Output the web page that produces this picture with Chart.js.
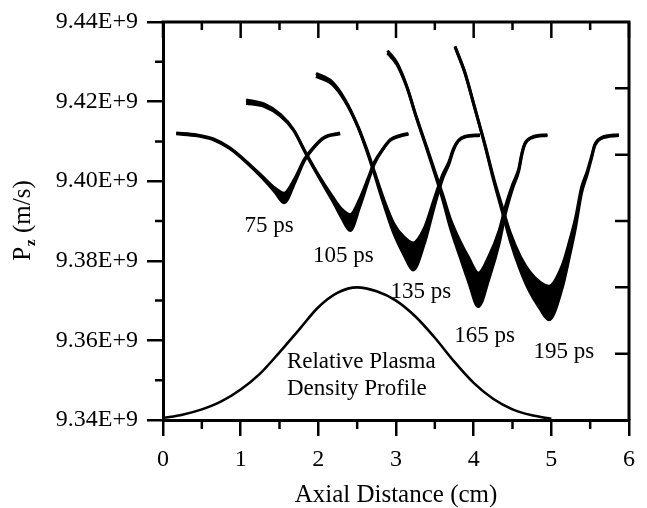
<!DOCTYPE html>
<html>
<head>
<meta charset="utf-8">
<script src="https://cdn.jsdelivr.net/npm/chart.js@4.4.1/dist/chart.umd.min.js"></script>
<style>
  html, body { margin: 0; padding: 0; background: #fff; }
  #wrap { width: 647px; height: 508px; }
</style>
</head>
<body>
<div id="wrap"><canvas id="c" width="647" height="508"></canvas></div>
<script>
// Axial momentum Pz of the beam slices (units of 1e9 m/s) versus axial distance (cm).
// For every time step: positions, mean Pz, and half spread of the particle band.
const x75  = [0.17, 0.44, 0.65, 0.86, 1.07, 1.28, 1.44, 1.56, 1.70, 1.82, 1.95, 2.07, 2.28];
const pz75 = [9.4120, 9.4115, 9.4105, 9.4083, 9.4049, 9.4010, 9.3978, 9.3958, 9.4003, 9.4053, 9.4087, 9.4109, 9.4120];
const sp75 = [0.0001, 0.0001, 0.0001, 0.0001, 0.0001, 0.0002, 0.0005, 0.0012, 0.0005, 0.0002, 0.0001, 0.0001, 0.0001];

const x105  = [1.07, 1.30, 1.51, 1.68, 1.84, 2.01, 2.18, 2.30, 2.41, 2.53, 2.64, 2.72, 2.84, 2.93, 3.05, 3.16];
const pz105 = [9.4200, 9.4191, 9.4166, 9.4129, 9.4070, 9.4011, 9.3957, 9.3919, 9.3896, 9.3944, 9.4003, 9.4045, 9.4083, 9.4104, 9.4114, 9.4119];
const sp105 = [0.0004, 0.0003, 0.0002, 0.0001, 0.0001, 0.0002, 0.0005, 0.0011, 0.0020, 0.0010, 0.0004, 0.0002, 0.0001, 0.0001, 0.0001, 0.0001];

const x135  = [1.97, 2.18, 2.34, 2.51, 2.63, 2.72, 2.84, 2.97, 3.10, 3.22, 3.36, 3.49, 3.60, 3.68, 3.74, 3.80, 3.89, 4.08];
const pz135 = [9.4267, 9.4246, 9.4204, 9.4137, 9.4075, 9.4022, 9.3950, 9.3882, 9.3838, 9.3811, 9.3860, 9.3944, 9.4011, 9.4045, 9.4080, 9.4101, 9.4112, 9.4116];
const sp135 = [0.0004, 0.0003, 0.0002, 0.0001, 0.0002, 0.0003, 0.0006, 0.0012, 0.0022, 0.0034, 0.0020, 0.0010, 0.0005, 0.0003, 0.0002, 0.0001, 0.0001, 0.0001];

const x165  = [2.89, 3.01, 3.14, 3.26, 3.39, 3.49, 3.60, 3.70, 3.83, 3.93, 4.06, 4.20, 4.33, 4.41, 4.50, 4.58, 4.62, 4.66, 4.75, 4.95];
const pz165 = [9.4325, 9.4296, 9.4237, 9.4162, 9.4087, 9.4028, 9.3961, 9.3894, 9.3827, 9.3780, 9.3727, 9.3785, 9.3861, 9.3928, 9.3986, 9.4028, 9.4068, 9.4094, 9.4110, 9.4116];
const sp165 = [0.0003, 0.0002, 0.0001, 0.0001, 0.0002, 0.0003, 0.0006, 0.0011, 0.0020, 0.0030, 0.0042, 0.0028, 0.0016, 0.0009, 0.0005, 0.0003, 0.0002, 0.0001, 0.0001, 0.0001];

const x195  = [3.76, 3.89, 4.01, 4.14, 4.26, 4.37, 4.47, 4.60, 4.72, 4.85, 4.97, 5.14, 5.23, 5.31, 5.39, 5.46, 5.52, 5.56, 5.64, 5.87];
const pz195 = [9.4338, 9.4271, 9.4187, 9.4095, 9.4003, 9.3928, 9.3861, 9.3794, 9.3748, 9.3714, 9.3694, 9.3760, 9.3827, 9.3894, 9.3978, 9.4020, 9.4062, 9.4091, 9.4108, 9.4116];
const sp195 = [0.0001, 0.0001, 0.0001, 0.0001, 0.0003, 0.0006, 0.0010, 0.0017, 0.0025, 0.0033, 0.0042, 0.0028, 0.0019, 0.0012, 0.0007, 0.0004, 0.0002, 0.0001, 0.0001, 0.0001];

// Relative plasma density profile (right-hand scale)
const densityX   = [0, 0.25, 0.5, 0.75, 1.0, 1.25, 1.5, 1.75, 2.0, 2.25, 2.5, 2.75, 3.0, 3.25, 3.5, 3.75, 4.0, 4.25, 4.5, 4.75, 5.0];
const densityRel = [0.015, 0.04, 0.08, 0.14, 0.23, 0.35, 0.51, 0.68, 0.85, 0.96, 1.0, 0.97, 0.90, 0.78, 0.62, 0.44, 0.28, 0.16, 0.08, 0.035, 0.01];

// Time-step names
const timeLabels = ['75 ps', '105 ps', '135 ps', '165 ps', '195 ps'];

// Axis ranges
const xRange = [0, 6];
const yRange = [9.34, 9.44];   // 1e9 m/s
const yStep = 0.02;

const FONT = '"Liberation Serif", "Times New Roman", Times, serif';
const E9 = 1e9;

const curves = [
  [x75, pz75, sp75], [x105, pz105, sp105], [x135, pz135, sp135],
  [x165, pz165, sp165], [x195, pz195, sp195]
];

const datasets = [];
curves.forEach(([xs, pz, sp], i) => {
  const common = {
    borderColor: '#000', backgroundColor: '#000', borderWidth: 3,
    pointRadius: 0, cubicInterpolationMode: 'monotone', yAxisID: 'y'
  };
  datasets.push(Object.assign({
    label: timeLabels[i] + ' upper',
    data: xs.map((x, k) => ({ x, y: (pz[k] + sp[k]) * E9 })),
    fill: false
  }, common));
  datasets.push(Object.assign({
    label: timeLabels[i] + ' lower',
    data: xs.map((x, k) => ({ x, y: (pz[k] - sp[k]) * E9 })),
    fill: '-1'
  }, common));
});
datasets.push({
  label: 'Relative Plasma Density Profile',
  data: densityX.map((x, k) => ({ x, y: densityRel[k] })),
  borderColor: '#000', borderWidth: 2.6, pointRadius: 0, fill: false,
  cubicInterpolationMode: 'monotone', yAxisID: 'y2'
});

// Frame, minor ticks, annotations and the Pz axis title
const framePlugin = {
  id: 'frame',
  afterDraw(chart) {
    const { ctx, chartArea: a, scales: { x, y, y2 } } = chart;
    ctx.save();
    ctx.strokeStyle = '#000';
    ctx.lineCap = 'butt';
    ctx.lineWidth = 3;
    ctx.beginPath();
    ctx.moveTo(a.left - 1.5, a.top);
    ctx.lineTo(a.right + 1.5, a.top);
    ctx.moveTo(a.right, a.top);
    ctx.lineTo(a.right, a.bottom);
    ctx.stroke();

    ctx.lineWidth = 2.5;
    ctx.beginPath();
    for (let i = 0; i <= 12; i++) {
      const v = xRange[0] + i * 0.5;
      const px = x.getPixelForValue(v);
      const major = i % 2 === 0;
      ctx.moveTo(px, a.top);
      ctx.lineTo(px, a.top + (major ? 16 : 8));
      if (!major) {
        ctx.moveTo(px, a.bottom);
        ctx.lineTo(px, a.bottom + 9);
      }
    }
    for (let i = 0; i < 5; i++) {
      const py = y.getPixelForValue((yRange[0] + yStep / 2 + i * yStep) * E9);
      ctx.moveTo(a.left, py);
      ctx.lineTo(a.left - 8, py);
    }
    for (let v = 0.5; v < 3; v += 0.5) {
      const py = y2.getPixelForValue(v);
      ctx.moveTo(a.right, py);
      ctx.lineTo(a.right - 14, py);
    }
    ctx.stroke();

    // time-step and profile annotations
    ctx.fillStyle = '#000';
    ctx.font = '23px ' + FONT;
    ctx.textAlign = 'left';
    ctx.textBaseline = 'middle';
    const anchors = [[1.05, 9.3888], [1.93, 9.3811], [2.93, 9.3722], [3.75, 9.3611], [4.77, 9.3570]];
    timeLabels.forEach((t, i) => {
      ctx.fillText(t, x.getPixelForValue(anchors[i][0]), y.getPixelForValue(anchors[i][1] * E9));
    });
    ctx.fillText('Relative Plasma', x.getPixelForValue(1.595), y.getPixelForValue(9.3545 * E9));
    ctx.fillText('Density Profile', x.getPixelForValue(1.595), y.getPixelForValue(9.3478 * E9));

    // Pz axis title with subscript z
    ctx.translate(30, (a.top + a.bottom) / 2);
    ctx.rotate(-Math.PI / 2);
    ctx.textBaseline = 'alphabetic';
    const big = '25px ' + FONT, sub = 'bold 15px ' + FONT;
    ctx.font = big; const wP = ctx.measureText('P').width;
    ctx.font = sub; const wz = ctx.measureText('z').width;
    ctx.font = big; const wRest = ctx.measureText(' (m/s)').width;
    let cx = -(wP + wz + wRest) / 2;
    ctx.font = big; ctx.fillText('P', cx, 0); cx += wP;
    ctx.font = sub; ctx.fillText('z', cx + 1, 5); cx += wz + 1;
    ctx.font = big; ctx.fillText(' (m/s)', cx, 0);
    ctx.restore();
  }
};

new Chart(document.getElementById('c'), {
  type: 'line',
  data: { datasets },
  options: {
    responsive: false,
    animation: false,
    devicePixelRatio: 1,
    layout: { padding: { top: 22, right: 6, left: 0, bottom: 0 } },
    plugins: { legend: { display: false }, tooltip: { enabled: false } },
    scales: {
      x: {
        type: 'linear', position: 'bottom', min: xRange[0], max: xRange[1],
        afterFit: s => { s.height = 88; },
        ticks: {
          stepSize: 1, color: '#000', padding: 12,
          font: { family: FONT, size: 24, lineHeight: 1 },
          callback: v => String(v)
        },
        grid: { display: true, drawOnChartArea: false, drawTicks: true, tickLength: 16, lineWidth: 2.5, color: '#000' },
        border: { display: true, width: 3, color: '#000' },
        title: {
          display: true, text: 'Axial Distance (cm)', color: '#000',
          font: { family: FONT, size: 25, lineHeight: 1 }, padding: { top: 0, bottom: 0 }
        }
      },
      y: {
        type: 'linear', position: 'left', min: yRange[0] * E9, max: yRange[1] * E9,
        afterFit: s => { s.width = 163; },
        ticks: {
          stepSize: yStep * E9, color: '#000', padding: 9,
          font: { family: FONT, size: 24, lineHeight: 1 },
          callback: v => (v / E9).toFixed(2) + 'E+9'
        },
        grid: { display: true, drawOnChartArea: false, drawTicks: true, tickLength: 16, lineWidth: 2.5, color: '#000' },
        border: { display: true, width: 3, color: '#000' }
      },
      y2: {
        type: 'linear', position: 'right', min: 0, max: 3, display: false
      }
    }
  },
  plugins: [framePlugin]
});
</script>
</body>
</html>
